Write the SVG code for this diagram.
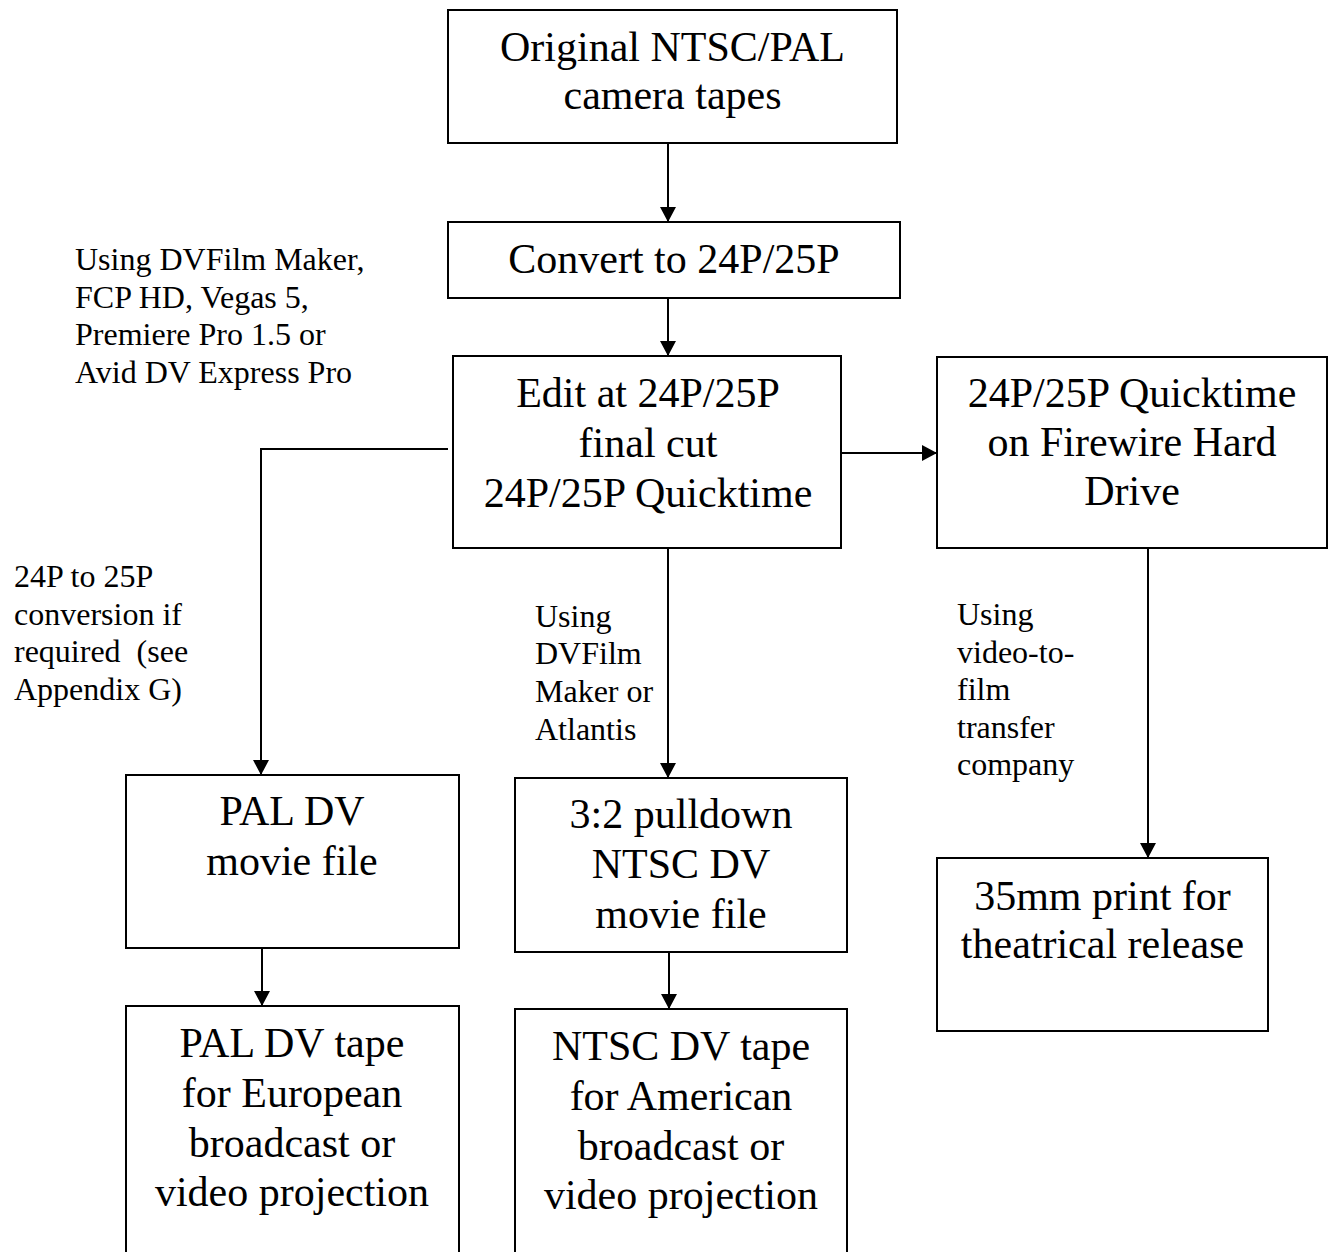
<svg xmlns="http://www.w3.org/2000/svg" width="1330" height="1252" viewBox="0 0 1330 1252">
<style>
.box{fill:#fff;stroke:#000;stroke-width:2}
.t{font-family:"Liberation Serif","Times New Roman",serif;font-size:42px;fill:#000;text-anchor:middle}
.l{font-family:"Liberation Serif","Times New Roman",serif;font-size:32px;fill:#000}
.c{fill:none;stroke:#000;stroke-width:2}
</style>
<defs>
<marker id="ah" markerWidth="15" markerHeight="16" refX="15" refY="8" orient="auto" markerUnits="userSpaceOnUse" viewBox="0 0 15 16"><path d="M0,0 L15,8 L0,16 z" fill="#000"/></marker>
</defs>
<rect width="1330" height="1252" fill="#fff"/>
<g id="connectors">
<path class="c" d="M668,143 V222" marker-end="url(#ah)"/>
<path class="c" d="M668,298 V356" marker-end="url(#ah)"/>
<path class="c" d="M448,449 H261 V775" marker-end="url(#ah)"/>
<path class="c" d="M841,453 H937" marker-end="url(#ah)"/>
<path class="c" d="M668,548 V778" marker-end="url(#ah)"/>
<path class="c" d="M1148,548 V858" marker-end="url(#ah)"/>
<path class="c" d="M262,948 V1006" marker-end="url(#ah)"/>
<path class="c" d="M669,952 V1009" marker-end="url(#ah)"/>
</g>
<g id="original">
<rect class="box" x="448" y="10" width="449" height="133"/>
<text class="t" x="672.5" y="61">Original NTSC/PAL</text>
<text class="t" x="672.5" y="109">camera tapes</text>
</g>
<g id="convert">
<rect class="box" x="448" y="222" width="452" height="76"/>
<text class="t" x="674" y="273">Convert to 24P/25P</text>
</g>
<g id="edit">
<rect class="box" x="453" y="356" width="388" height="192"/>
<text class="t" x="648" y="407">Edit at 24P/25P</text>
<text class="t" x="648" y="457">final cut</text>
<text class="t" x="648" y="507">24P/25P Quicktime</text>
</g>
<g id="firewire">
<rect class="box" x="937" y="357" width="390" height="191"/>
<text class="t" x="1132" y="407">24P/25P Quicktime</text>
<text class="t" x="1132" y="456">on Firewire Hard</text>
<text class="t" x="1132" y="505">Drive</text>
</g>
<g id="print35">
<rect class="box" x="937" y="858" width="331" height="173"/>
<text class="t" x="1102.5" y="910">35mm print for</text>
<text class="t" x="1102.5" y="958">theatrical release</text>
</g>
<g id="paldv">
<rect class="box" x="126" y="775" width="333" height="173"/>
<text class="t" x="292" y="825">PAL DV</text>
<text class="t" x="292" y="875">movie file</text>
</g>
<g id="ntscdv">
<rect class="box" x="515" y="778" width="332" height="174"/>
<text class="t" x="681" y="828">3:2 pulldown</text>
<text class="t" x="681" y="878">NTSC DV</text>
<text class="t" x="681" y="928">movie file</text>
</g>
<g id="paltape">
<rect class="box" x="126" y="1006" width="333" height="260"/>
<text class="t" x="292" y="1057">PAL DV tape</text>
<text class="t" x="292" y="1107">for European</text>
<text class="t" x="292" y="1157">broadcast or</text>
<text class="t" x="292" y="1206">video projection</text>
</g>
<g id="ntsctape">
<rect class="box" x="515" y="1009" width="332" height="260"/>
<text class="t" x="681" y="1060">NTSC DV tape</text>
<text class="t" x="681" y="1110">for American</text>
<text class="t" x="681" y="1160">broadcast or</text>
<text class="t" x="681" y="1209">video projection</text>
</g>
<g id="label-editing">
<text class="l" x="75" y="270">Using DVFilm Maker,</text>
<text class="l" x="75" y="308">FCP HD, Vegas 5,</text>
<text class="l" x="75" y="345">Premiere Pro 1.5 or</text>
<text class="l" x="75" y="383">Avid DV Express Pro</text>
</g>
<g id="label-conversion">
<text class="l" x="14" y="587">24P to 25P</text>
<text class="l" x="14" y="625">conversion if</text>
<text class="l" x="14" y="662" xml:space="preserve">required  (see</text>
<text class="l" x="14" y="700">Appendix G)</text>
</g>
<g id="label-pulldown">
<text class="l" x="535" y="627">Using</text>
<text class="l" x="535" y="664">DVFilm</text>
<text class="l" x="535" y="702">Maker or</text>
<text class="l" x="535" y="740">Atlantis</text>
</g>
<g id="label-transfer">
<text class="l" x="957" y="625">Using</text>
<text class="l" x="957" y="663">video-to-</text>
<text class="l" x="957" y="700">film</text>
<text class="l" x="957" y="738">transfer</text>
<text class="l" x="957" y="775">company</text>
</g>
</svg>
